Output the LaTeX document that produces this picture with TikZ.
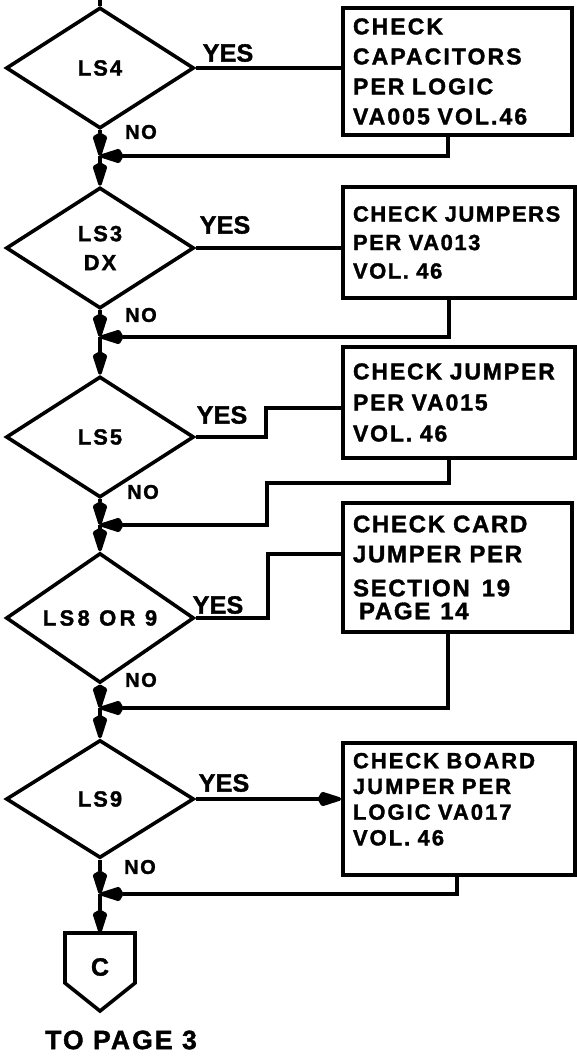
\documentclass[tikz,border=0pt]{standalone}
\usepackage{fontspec}
\setsansfont{Liberation Sans}
\usetikzlibrary{shapes.geometric,arrows.meta,calc}
\newcommand\ltrfont[3]{\sffamily\bfseries\fontsize{#1}{#2}\selectfont\addfontfeatures{LetterSpace=#3,FakeBold=1.5}}
\tikzset{
  conn/.style={line width=3.6pt},
  tip/.style={-{Stealth[length=24pt,width=13pt,inset=-5pt,round]}},
  flow/.style={conn,tip},
  ret/.style={conn,tip},
  decide/.style={diamond,draw,line width=3.6pt,minimum width=188pt,minimum height=121pt,
     inner sep=0pt,align=center,font=\ltrfont{22}{29}{9}},
  checkbox/.style={rectangle,draw,line width=3.8pt,inner xsep=10pt,inner ysep=0pt,
     align=left,font=\ltrfont{22}{30}{8}},
  yeslbl/.style={font=\ltrfont{25}{25}{1}},
  nolbl/.style={font=\ltrfont{20}{20}{8}},
}
\begin{document}
\begin{tikzpicture}[x=1pt,y=-1pt]
\useasboundingbox (0,0) rectangle (577,1056);

% decisions
\node[decide] (d1) at (100,68) {LS4};
\node[decide] (d2) at (100,248) {LS3\\DX};
\node[decide] (d3) at (100,437) {LS5};
\node[decide,font=\ltrfont{22}{29}{15}] (d4) at (100,618) {LS8 OR 9};
\node[decide,minimum height=118pt] (d5) at (100,799) {LS9};

% boxes
\node[checkbox,minimum width=229pt,minimum height=127pt,text width=209pt,font=\ltrfont{23}{30}{9}] (b1) at (457.5,71.5)
  {\mbox{CHECK}\\\mbox{CAPACITORS}\\\mbox{PER LOGIC}\\\mbox{VA005 VOL.46}};
\node[checkbox,minimum width=232pt,minimum height=111pt,text width=212pt,font=\ltrfont{22}{28.5}{7}] (b2) at (459,242.5)
  {\mbox{CHECK JUMPERS}\\\mbox{PER VA013}\\\mbox{VOL. 46}};
\node[checkbox,minimum width=232pt,minimum height=111pt,text width=212pt,font=\ltrfont{23}{31}{8}] (b3) at (459,402.5)
  {\mbox{CHECK JUMPER}\\\mbox{PER VA015}\\\mbox{VOL. 46}};
\node[checkbox,minimum width=229pt,minimum height=129pt,text width=209pt,font=\ltrfont{24}{23}{7}] (b4) at (457.5,567.5)
  {\mbox{CHECK CARD}\\[7pt]\mbox{JUMPER PER}\\[11pt]\mbox{SECTION\hspace{12pt}19}\\\hspace*{6pt}\mbox{PAGE\hspace{10pt}14}};
\node[checkbox,minimum width=232pt,minimum height=132pt,text width=212pt,font=\ltrfont{22}{25.7}{9}] (b5) at (459,809)
  {\mbox{CHECK BOARD}\\\mbox{JUMPER PER}\\\mbox{LOGIC VA017}\\\mbox{VOL. 46}\\[-6pt]\mbox{}};

% off-page connector
\coordinate (ctop) at (100,933);
\draw[line width=3.6pt,line join=miter] (65,933) -- (135,933) -- (135,983) -- (100,1011) -- (65,983) -- cycle;
\node[font=\ltrfont{25}{25}{2}] (c) at (100,967) {C};
\node[font=\ltrfont{26.5}{26}{8}] (tp) at (121,1040) {TO PAGE 3};

% junction points
\coordinate (top) at (100,0);
\coordinate (j1) at (100,156);
\coordinate (j2) at (100,337);
\coordinate (j3) at (100,525);
\coordinate (j4) at (100,708);
\coordinate (j5) at (100,894);
\coordinate (r1) at (448,156);
\coordinate (r2) at (449,337);
\coordinate (r3a) at (449,483);
\coordinate (r3b) at (267,525);
\coordinate (r4) at (448,708);
\coordinate (r5) at (457,894);
\coordinate (k3) at (266,408);
\coordinate (k4) at (268,554);

% main flow
\draw[conn] (top) -- (d1.north);
\draw[flow] (d1.south) -- (j1);
\draw[flow] (j1) -- (d2.north);
\draw[flow] (d2.south) -- (j2);
\draw[flow] (j2) -- (d3.north);
\draw[flow] (d3.south) -- (j3);
\draw[flow] (j3) -- (d4.north);
\draw[flow] (d4.south) -- (j4);
\draw[flow] (j4) -- (d5.north);
\draw[flow] (d5.south) -- (j5);
\draw[flow] (j5) -- (ctop);

% yes branches
\draw[conn] (d1.east) -- (d1.east -| b1.west);
\draw[conn] (d2.east) -- (d2.east -| b2.west);
\draw[conn] (d3.east) -| (k3) -- (k3 -| b3.west);
\draw[conn] (d4.east) -| (k4) -- (k4 -| b4.west);
\draw[conn,tip] (d5.east) -- (d5.east -| b5.west);

% returns
\draw[ret] (r1 |- b1.south) -- (r1) -- (j1);
\draw[ret] (r2 |- b2.south) -- (r2) -- (j2);
\draw[ret] (r3a |- b3.south) -- (r3a) -| (r3b) -- (j3);
\draw[ret] (r4 |- b4.south) -- (r4) -- (j4);
\draw[ret] (r5 |- b5.south) -- (r5) -- (j5);

% labels
\node[yeslbl] (y1) at (228,53) {YES};
\node[yeslbl] (y2) at (225,225) {YES};
\node[yeslbl] (y3) at (222,415) {YES};
\node[yeslbl] (y4) at (218,605) {YES};
\node[yeslbl] (y5) at (224,783) {YES};
\node[nolbl] (n1) at (141,132) {NO};
\node[nolbl] (n2) at (141,315) {NO};
\node[nolbl] (n3) at (143,492) {NO};
\node[nolbl] (n4) at (141,680) {NO};
\node[nolbl] (n5) at (140,867) {NO};
\end{tikzpicture}
\end{document}
